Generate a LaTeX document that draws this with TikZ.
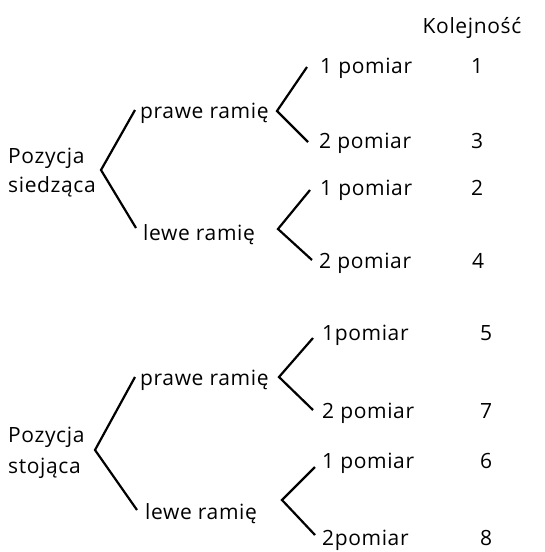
\documentclass[tikz,border=0pt]{standalone}
\usepackage{fontspec}
\setmainfont{Open Sans}[LetterSpace=3]
\begin{document}
\begin{tikzpicture}[x=1pt,y=-1pt,
  lbl/.style={anchor=base west, inner sep=0pt, font=\fontsize{21}{24}\selectfont},
  num/.style={anchor=base, inner sep=0pt, font=\fontsize{21}{24}\selectfont},
  fork/.style={line width=2.2pt, line join=miter, line cap=butt}]
\useasboundingbox (0,0) rectangle (545,552);

% column heading
\node[num] (kol) at (472,33) {Kolejność};

% ---- sitting position ----
\node[lbl] (sitA) at (8,163) {Pozycja};
\node[lbl] (sitB) at (8,192) {siedząca};
\node[lbl] (sitR) at (140,118) {prawe ramię};
\node[lbl] (sitL) at (143,240) {lewe ramię};
\node[lbl] (sitR1) at (320,73) {1 pomiar};
\node[lbl] (sitR2) at (319,148) {2 pomiar};
\node[lbl] (sitL1) at (320,195) {1 pomiar};
\node[lbl] (sitL2) at (319,268) {2 pomiar};
\node[num] (o1) at (477,73) {1};
\node[num] (o3) at (477,148) {3};
\node[num] (o2) at (477,195) {2};
\node[num] (o4) at (478,268) {4};

\coordinate (v1) at (101,170); \coordinate (a1) at (135,110); \coordinate (b1) at (136,228);
\coordinate (v2) at (277,111); \coordinate (a2) at (307,67);  \coordinate (b2) at (308,142);
\coordinate (v3) at (278,229); \coordinate (a3) at (310,190); \coordinate (b3) at (312,260);
\draw[fork] (a1) -- (v1) -- (b1);
\draw[fork] (a2) -- (v2) -- (b2);
\draw[fork] (a3) -- (v3) -- (b3);

% ---- standing position ----
\node[lbl] (stA) at (8,442) {Pozycja};
\node[lbl] (stB) at (8,473) {stojąca};
\node[lbl] (stR) at (140,385) {prawe ramię};
\node[lbl] (stL) at (145,519) {lewe ramię};
\node[lbl] (stR1) at (322,340) {1pomiar};
\node[lbl] (stR2) at (322,418) {2 pomiar};
\node[lbl] (stL1) at (322,468) {1 pomiar};
\node[lbl] (stL2) at (322,545) {2pomiar};
\node[num] (o5) at (486,340) {5};
\node[num] (o7) at (486,418) {7};
\node[num] (o6) at (486,468) {6};
\node[num] (o8) at (486,545) {8};

\coordinate (v4) at (95,450);  \coordinate (a4) at (135,377); \coordinate (b4) at (137,510);
\coordinate (v5) at (279,377); \coordinate (a5) at (313,338); \coordinate (b5) at (313,410);
\coordinate (v6) at (282,500); \coordinate (a6) at (315,467); \coordinate (b6) at (315,535);
\draw[fork] (a4) -- (v4) -- (b4);
\draw[fork] (a5) -- (v5) -- (b5);
\draw[fork] (a6) -- (v6) -- (b6);
\end{tikzpicture}
\end{document}
